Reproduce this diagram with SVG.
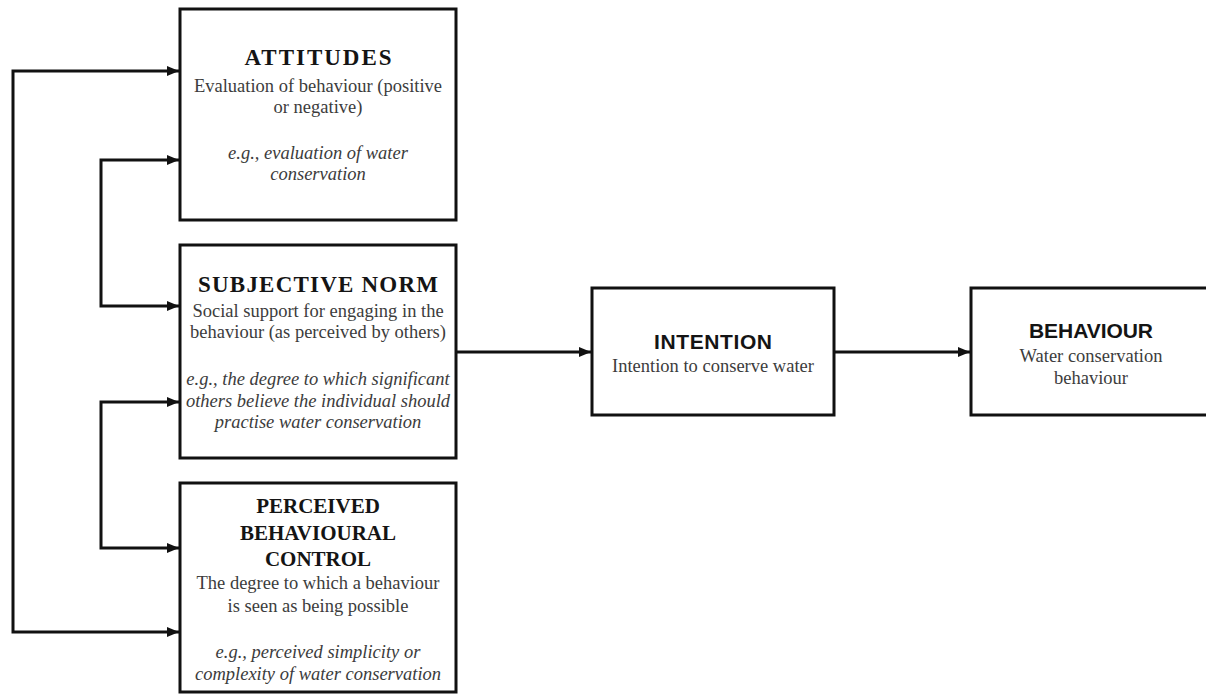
<svg xmlns="http://www.w3.org/2000/svg" width="1206" height="694" viewBox="0 0 1206 694">
  <style>
    .box { fill: #ffffff; stroke: #111111; stroke-width: 3; }
    .link { fill: none; stroke: #111111; stroke-width: 3; stroke-linejoin: miter; }
    .head { font-family: "Liberation Serif", "Times New Roman", "DejaVu Serif", serif; font-weight: bold; font-size: 23px; fill: #141414; text-anchor: middle; }
    .head.small { font-size: 21px; }
    .headsans { font-family: "Liberation Sans", Arial, sans-serif; font-weight: bold; font-size: 21px; fill: #141414; text-anchor: middle; }
    .body { font-family: "Liberation Serif", "Times New Roman", "DejaVu Serif", serif; font-size: 18.5px; fill: #3c3c3c; text-anchor: middle; }
    .ex { font-family: "Liberation Serif", "Times New Roman", "DejaVu Serif", serif; font-style: italic; font-size: 18.5px; fill: #3c3c3c; text-anchor: middle; }
  </style>
  <defs>
    <marker id="arrow" viewBox="0 0 12 10" refX="12" refY="5" markerWidth="12" markerHeight="10" markerUnits="userSpaceOnUse" orient="auto-start-reverse">
      <path d="M0,0 L12,5 L0,10 Z" fill="#111111"/>
    </marker>
  </defs>
  <rect width="1206" height="694" fill="#ffffff"/>

  <g id="connectors">
    <!-- outer loop: attitudes <-> perceived behavioural control -->
    <polyline class="link" points="179,71 13,71 13,632 179,632" marker-start="url(#arrow)" marker-end="url(#arrow)"/>
    <!-- attitudes <-> subjective norm -->
    <polyline class="link" points="179,160 101,160 101,306 179,306" marker-start="url(#arrow)" marker-end="url(#arrow)"/>
    <!-- subjective norm <-> perceived behavioural control -->
    <polyline class="link" points="179,402 101,402 101,548 179,548" marker-start="url(#arrow)" marker-end="url(#arrow)"/>
    <!-- subjective norm -> intention -> behaviour -->
    <line class="link" x1="456" y1="352" x2="591" y2="352" marker-end="url(#arrow)"/>
    <line class="link" x1="834" y1="352" x2="970" y2="352" marker-end="url(#arrow)"/>
  </g>

  <g id="attitudes">
    <rect class="box" x="180" y="9" width="276" height="211"/>
    <text class="head" x="318" y="65" textLength="147" lengthAdjust="spacing">ATTITUDES</text>
    <text class="body" x="318" y="92">Evaluation of behaviour (positive</text>
    <text class="body" x="318" y="113">or negative)</text>
    <text class="ex" x="318" y="159">e.g., evaluation of water</text>
    <text class="ex" x="318" y="180">conservation</text>
  </g>

  <g id="subjective-norm">
    <rect class="box" x="180" y="245" width="276" height="213"/>
    <text class="head" x="318" y="292" textLength="240" lengthAdjust="spacing">SUBJECTIVE NORM</text>
    <text class="body" x="318" y="317">Social support for engaging in the</text>
    <text class="body" x="318" y="338">behaviour (as perceived by others)</text>
    <text class="ex" x="318" y="385">e.g., the degree to which significant</text>
    <text class="ex" x="318" y="407">others believe the individual should</text>
    <text class="ex" x="318" y="428">practise water conservation</text>
  </g>

  <g id="perceived-behavioural-control">
    <rect class="box" x="180" y="483" width="276" height="209"/>
    <text class="head small" x="318" y="513">PERCEIVED</text>
    <text class="head small" x="318" y="540">BEHAVIOURAL</text>
    <text class="head small" x="318" y="566">CONTROL</text>
    <text class="body" x="318" y="589">The degree to which a behaviour</text>
    <text class="body" x="318" y="612">is seen as being possible</text>
    <text class="ex" x="318" y="658">e.g., perceived simplicity or</text>
    <text class="ex" x="318" y="680">complexity of water conservation</text>
  </g>

  <g id="intention">
    <rect class="box" x="592" y="288" width="242" height="127"/>
    <text class="headsans" x="713" y="349" textLength="118" lengthAdjust="spacing">INTENTION</text>
    <text class="body" x="713" y="372">Intention to conserve water</text>
  </g>

  <g id="behaviour">
    <rect class="box" x="971" y="288" width="242" height="127"/>
    <text class="headsans" x="1091" y="338" textLength="124" lengthAdjust="spacing">BEHAVIOUR</text>
    <text class="body" x="1091" y="362">Water conservation</text>
    <text class="body" x="1091" y="384">behaviour</text>
  </g>
</svg>
